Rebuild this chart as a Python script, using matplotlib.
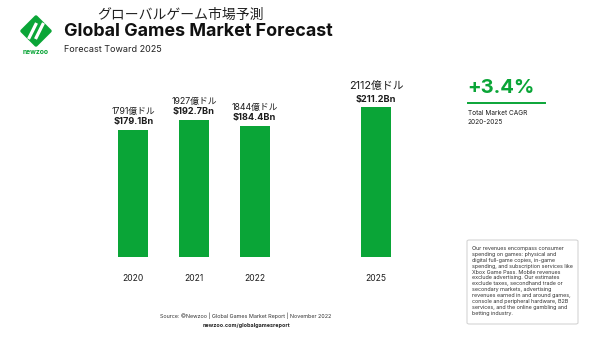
import matplotlib
matplotlib.use('Agg')
import matplotlib.pyplot as plt
from matplotlib.patches import Polygon, FancyBboxPatch
from matplotlib.lines import Line2D

plt.rcParams['font.family'] = ['Inter', 'Noto Sans CJK JP', 'DejaVu Sans']

# data
years = ['2020', '2021', '2022', '2025']
slots = [0, 1, 2, 4]          # 2025 sits one slot further right
revenue_bn = [179.1, 192.7, 184.4, 211.2]
usd_labels = ['$179.1Bn', '$192.7Bn', '$184.4Bn', '$211.2Bn']
jp_labels = ['1791億ドル', '1927億ドル', '1844億ドル', '2112億ドル']
cagr = '+3.4%'

GREEN = '#0aa537'
DARK = '#1c1c1c'
W, H = 600, 338


def px(x, y):
    # pixel position (top-left origin) -> figure fraction
    return x / W, 1 - y / H


fig = plt.figure(figsize=(6, 3.38), dpi=100)
fig.patch.set_facecolor('white')

# bar area
ax = fig.add_axes([103 / W, 81 / H, 303.3 / W, 177.3 / H])
ax.bar(slots, revenue_bn, width=0.495, color=GREEN)
ax.set_xlim(-0.5, 4.5)
ax.set_ylim(0, 250)
ax.axis('off')

for i, (s, v) in enumerate(zip(slots, revenue_bn)):
    last = i == len(slots) - 1
    ax.annotate(usd_labels[i], (s, v), xytext=(0, 5.5 if last else 6.2),
                textcoords='offset points', ha='center', va='center',
                fontsize=6.6, fontweight='bold', color=DARK)
    ax.annotate(jp_labels[i], (s, v), xytext=(0, 15.5 if last else 13.3),
                textcoords='offset points', ha='center', va='center',
                fontsize=7.8 if last else 6.3, color=DARK)
    ax.annotate(years[i], (s, 0), xytext=(0, -15.8), textcoords='offset points',
                ha='center', va='center', fontsize=6.1, color=DARK)

# header
fig.text(*px(180, 15), 'グローバルゲーム市場予測', ha='center', va='center',
         fontsize=10, family=['Noto Sans CJK JP'], color='#222222')
fig.text(*px(64, 31), 'Global Games Market Forecast', ha='left', va='center',
         fontsize=12.9, fontweight='bold', color='#111111')
fig.text(*px(64, 49.5), 'Forecast Toward 2025', ha='left', va='center',
         fontsize=6.5, color='#222222')

# logo (rounded diamond with two white stripes)
cx, cy, r = 36, 31, 14
diamond = Polygon([px(cx, cy - r), px(cx + r, cy), px(cx, cy + r), px(cx - r, cy)],
                  closed=True, transform=fig.transFigure, facecolor=GREEN,
                  edgecolor=GREEN, lw=2.5, joinstyle='round')
fig.patches.append(diamond)
for dx in (-3.5, 3.5):
    fig.lines.append(Line2D([(cx - 4 + dx) / W, (cx + 4 + dx) / W],
                            [1 - (cy + 8) / H, 1 - (cy - 8) / H],
                            transform=fig.transFigure, color='white', lw=2.3,
                            solid_capstyle='butt'))
fig.text(*px(36, 51.5), 'newzoo', ha='center', va='center', fontsize=4.9,
         fontweight='bold', color=GREEN)

# CAGR block
fig.text(*px(467, 88), cagr, ha='left', va='center', fontsize=14.5,
         fontweight='bold', color=GREEN)
fig.lines.append(Line2D([468 / W, 545 / W], [1 - 102.7 / H] * 2,
                        transform=fig.transFigure, color=GREEN, lw=1.4))
fig.text(*px(468, 112.7), 'Total Market CAGR', ha='left', va='center',
         fontsize=4.7, color=DARK)
fig.text(*px(468, 121.7), '2020-2025', ha='left', va='center',
         fontsize=4.7, color=DARK)

# note box
box = FancyBboxPatch((467 / W, 1 - 324 / H), 111 / W, 84 / H,
                     boxstyle='round,pad=0,rounding_size=0.004',
                     transform=fig.transFigure, facecolor='white',
                     edgecolor='#d4d4d4', lw=0.8)
fig.patches.append(box)
note = ('Our revenues encompass consumer\n'
        'spending on games: physical and\n'
        'digital full-game copies, in-game\n'
        'spending, and subscription services like\n'
        'Xbox Game Pass. Mobile revenues\n'
        'exclude advertising. Our estimates\n'
        'exclude taxes, secondhand trade or\n'
        'secondary markets, advertising\n'
        'revenues earned in and around games,\n'
        'console and peripheral hardware, B2B\n'
        'services, and the online gambling and\n'
        'betting industry.')
fig.text(*px(472.5, 246), note, ha='left', va='top', fontsize=3.9,
         linespacing=1.22, color='#333333')

# footer
fig.text(*px(246, 315.3), 'Source: ©Newzoo | Global Games Market Report | November 2022',
         ha='center', va='center', fontsize=3.9, color='#333333')
fig.text(*px(246, 325), 'newzoo.com/globalgamesreport', ha='center', va='center',
         fontsize=3.9, fontweight='bold', color='#222222')

fig.savefig('out.png', dpi=100, facecolor='white')
